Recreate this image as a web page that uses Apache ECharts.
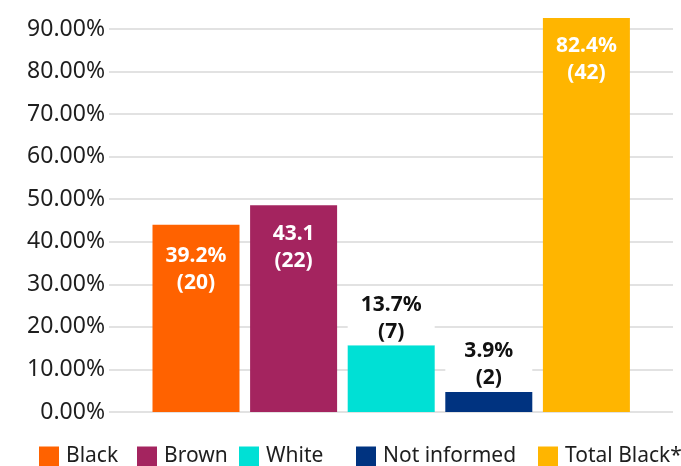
<!DOCTYPE html>
<html>
<head>
<meta charset="utf-8">
<script src="https://cdn.jsdelivr.net/npm/echarts@6/dist/echarts.min.js"></script>
<style>html,body{margin:0;padding:0;background:#fff}#c{width:681px;height:466px}</style>
</head>
<body>
<div id="c"></div>
<script>
// Data (bar heights as drawn in the picture, labels as printed)
const categories = ['Black', 'Brown', 'White', 'Not informed', 'Total Black*'];
const barValues = [44.0, 48.6, 15.7, 4.7, 92.6];
const pctLabels = ['39.2%', '43.1', '13.7%', '3.9%', '82.4%'];
const counts = [20, 22, 7, 2, 42];
const yTicks = [0, 10, 20, 30, 40, 50, 60, 70, 80, 90];

// Styles
const colors = ['#FF6200', '#A4245F', '#00E0D5', '#003380', '#FFB500'];
const labelInside = [true, true, false, false, true];
const labelDist = [18, 15, 0, 0, 15];
const legendLeft = [39, 137, 239, 356, 538];

const FONT = '"Noto Sans", "Open Sans", sans-serif';

const chart = echarts.init(document.getElementById('c'), null, {renderer: 'canvas'});

const series = categories.map((name, i) => ({
  name: name,
  type: 'bar',
  stack: 'all',
  xAxisIndex: 1,
  yAxisIndex: 1,
  barWidth: 87,
  clip: false,
  itemStyle: {color: colors[i]},
  label: {
    show: true,
    position: labelInside[i] ? 'insideTop' : 'top',
    distance: labelDist[i],
    formatter: () => pctLabels[i] + '\n(' + counts[i] + ')',
    color: labelInside[i] ? '#ffffff' : '#111111',
    fontFamily: FONT,
    fontWeight: 'bold',
    fontSize: 21,
    lineHeight: 27,
    align: 'center',
    width: 87,
    backgroundColor: labelInside[i] ? 'transparent' : '#ffffff'
  },
  data: categories.map((c, j) => (j === i ? barValues[i] : '-'))
}));

const option = {
  animation: false,
  backgroundColor: '#ffffff',
  legend: categories.map((name, i) => ({
    data: [name],
    left: legendLeft[i],
    top: 446,
    itemWidth: 20,
    itemHeight: 20,
    itemGap: 0,
    padding: 0,
    icon: 'rect',
    textStyle: {fontFamily: FONT, fontSize: 21, color: '#1e1e1e', padding: [0, 0, 0, 2]},
    selectedMode: false
  })),
  grid: [
    {left: 109, right: 8, top: 29, bottom: 54},
    {left: 147.2, right: 45.8, top: 29, bottom: 54}
  ],
  xAxis: [
    {type: 'category', gridIndex: 0, data: categories, show: false},
    {type: 'category', gridIndex: 1, data: categories, show: false}
  ],
  yAxis: [
    {
      type: 'value', gridIndex: 0, min: yTicks[0], max: yTicks[yTicks.length - 1], interval: 10,
      axisLine: {show: false}, axisTick: {show: false},
      splitLine: {lineStyle: {color: '#d9d9d9', width: 1.5}},
      axisLabel: {
        margin: 4,
        formatter: v => v.toFixed(2) + '%',
        fontFamily: FONT, fontSize: 23, color: '#1e1e1e'
      }
    },
    {
      type: 'value', gridIndex: 1, min: yTicks[0], max: yTicks[yTicks.length - 1], interval: 10,
      show: false, splitLine: {show: false}
    }
  ],
  series: series
};

chart.setOption(option);
</script>
</body>
</html>
